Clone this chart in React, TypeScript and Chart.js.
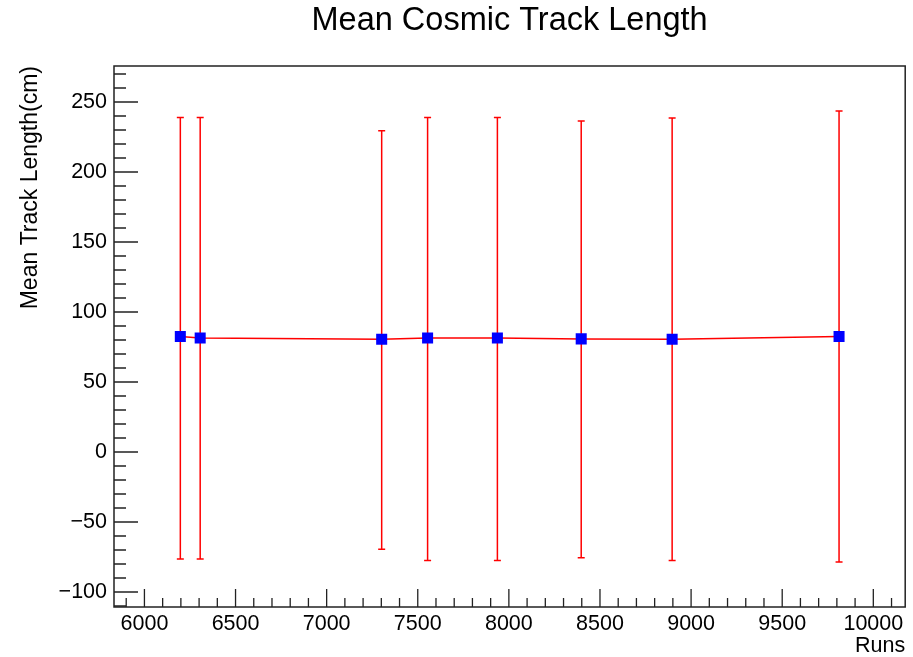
import React, { useEffect, useRef } from 'react';
import { Chart, registerables } from 'chart.js';

Chart.register(...registerables);

const runs = [6197, 6306, 7302, 7554, 7937, 8397, 8896, 9812];
const meanLength = [82.5, 81.5, 80.5, 81.5, 81.5, 80.8, 80.5, 82.5];
const errUpper = [239, 239, 229.5, 239, 239, 236.5, 238.5, 243.5];
const errLower = [-76.5, -76.5, -69.5, -77.5, -77.5, -75.5, -77.5, -78.5];

const xTickValues = [6000, 6500, 7000, 7500, 8000, 8500, 9000, 9500, 10000];
const yTickValues = [-100, -50, 0, 50, 100, 150, 200, 250];
const xRange = [5833, 10175];
const yRange = [-110.7, 275.7];
const xMinorStep = 100;
const yMinorStep = 10;

const FONT = "'Liberation Sans', Arial, Helvetica, sans-serif";

const rootFrame = {
  id: 'rootFrame',
  afterLayout(chart: any) {
    const t = chart.titleBlock;
    if (t) {
      t.left = chart.chartArea.left;
      t.right = chart.chartArea.right;
    }
  },
  beforeDatasetsDraw(chart: any) {
    const ctx = chart.ctx;
    const xs = chart.scales.x;
    const ys = chart.scales.y;
    ctx.save();
    ctx.strokeStyle = '#ff0000';
    ctx.lineWidth = 1.5;
    for (let i = 0; i < runs.length; i++) {
      const px = xs.getPixelForValue(runs[i]);
      const pTop = ys.getPixelForValue(errUpper[i]);
      const pBot = ys.getPixelForValue(errLower[i]);
      ctx.beginPath();
      ctx.moveTo(px, pTop);
      ctx.lineTo(px, pBot);
      ctx.moveTo(px - 3.5, pTop);
      ctx.lineTo(px + 3.5, pTop);
      ctx.moveTo(px - 3.5, pBot);
      ctx.lineTo(px + 3.5, pBot);
      ctx.stroke();
    }
    ctx.restore();
  },
  afterDraw(chart: any) {
    const ctx = chart.ctx;
    const { left, right, top, bottom } = chart.chartArea;
    const xs = chart.scales.x;
    const ys = chart.scales.y;
    ctx.save();
    ctx.strokeStyle = '#222';
    ctx.lineWidth = 1.5;
    ctx.strokeRect(left, top, right - left, bottom - top);
    ctx.lineWidth = 1.3;
    ctx.beginPath();
    const xStart = Math.ceil(xRange[0] / xMinorStep) * xMinorStep;
    for (let v = xStart; v <= xRange[1]; v += xMinorStep) {
      const px = xs.getPixelForValue(v);
      const major = v % 500 === 0;
      ctx.moveTo(px, bottom);
      ctx.lineTo(px, bottom - (major ? 18 : 9));
    }
    const yStart = Math.ceil(yRange[0] / yMinorStep) * yMinorStep;
    for (let v = yStart; v <= yRange[1]; v += yMinorStep) {
      const py = ys.getPixelForValue(v);
      const major = v % 50 === 0;
      ctx.moveTo(left, py);
      ctx.lineTo(left + (major ? 24 : 12), py);
    }
    ctx.stroke();
    ctx.restore();
  },
};

export default function App() {
  const canvasRef = useRef<HTMLCanvasElement | null>(null);

  useEffect(() => {
    if (!canvasRef.current) return;
    const chart = new Chart(canvasRef.current, {
      type: 'scatter',
      data: {
        datasets: [
          {
            data: runs.map((r, i) => ({ x: r, y: meanLength[i] })),
            showLine: true,
            borderColor: '#ff0000',
            borderWidth: 1.5,
            pointStyle: 'rect',
            pointRadius: 7.8,
            pointHoverRadius: 7.8,
            pointBackgroundColor: '#0000ff',
            pointBorderColor: '#0000ff',
            pointBorderWidth: 0,
            tension: 0,
          } as any,
        ],
      },
      options: {
        animation: false,
        responsive: true,
        maintainAspectRatio: false,
        layout: { padding: { left: 0, right: 3, top: 0, bottom: 0 } },
        plugins: {
          legend: { display: false },
          tooltip: { enabled: false },
          title: {
            display: true,
            text: 'Mean Cosmic Track Length',
            color: '#000',
            font: { family: FONT, size: 32.5, weight: 'normal' },
            padding: { top: 2, bottom: 25 },
          },
        },
        scales: {
          x: {
            type: 'linear',
            min: xRange[0],
            max: xRange[1],
            afterBuildTicks: (s: any) => {
              s.ticks = xTickValues.map((v) => ({ value: v }));
            },
            afterFit: (s: any) => {
              s.height = 50;
            },
            grid: { display: false, drawTicks: false },
            border: { display: false },
            ticks: {
              font: { family: FONT, size: 21.5 },
              color: '#000',
              padding: 4,
              maxRotation: 0,
              autoSkip: false,
              callback: (v: any) => String(v),
            },
            title: {
              display: true,
              text: 'Runs',
              align: 'end',
              color: '#000',
              font: { family: FONT, size: 21.5, lineHeight: 1 },
              padding: { top: 0, bottom: 0 },
            },
          },
          y: {
            type: 'linear',
            min: yRange[0],
            max: yRange[1],
            afterBuildTicks: (s: any) => {
              s.ticks = yTickValues.map((v) => ({ value: v }));
            },
            afterFit: (s: any) => {
              s.width = 114;
            },
            grid: { display: false, drawTicks: false },
            border: { display: false },
            ticks: {
              font: { family: FONT, size: 21.5 },
              color: '#000',
              padding: 7,
              autoSkip: false,
              callback: (v: any) => (Number(v) < 0 ? '\u2212' + Math.abs(Number(v)) : String(v)),
            },
            title: {
              display: true,
              text: 'Mean Track Length(cm)',
              align: 'end',
              color: '#000',
              font: { family: FONT, size: 23 },
              padding: { top: 17, bottom: 0 },
            },
          },
        },
      },
      plugins: [rootFrame],
    });
    return () => chart.destroy();
  }, []);

  return (
    <div style={{ position: 'absolute', left: 0, top: 0, width: 913, height: 657, background: '#fff' }}>
      <canvas ref={canvasRef} />
    </div>
  );
}
